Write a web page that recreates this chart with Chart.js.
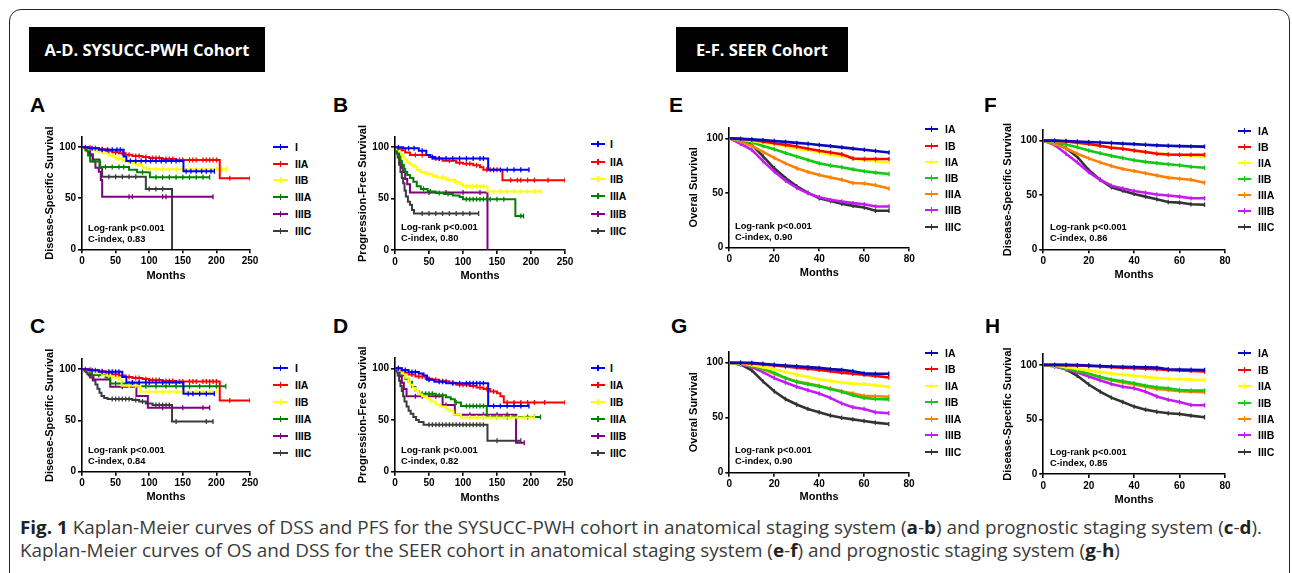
<!DOCTYPE html>
<html>
<head>
<meta charset="utf-8">
<title>Fig. 1 Kaplan-Meier curves</title>
<script src="https://cdn.jsdelivr.net/npm/chart.js@4.4.1/dist/chart.umd.min.js"></script>
<style>
 html,body{margin:0;padding:0;background:#fff;}
 body{width:1292px;height:573px;position:relative;overflow:hidden;font-family:'Liberation Sans',Arial,sans-serif;}
 #frame{position:absolute;left:9px;top:9px;width:1281px;height:640px;border:1.5px solid #262626;border-radius:12px;box-sizing:border-box;}
 .hdr{position:absolute;top:27px;height:45px;background:#000;color:#fff;font-family:'Open Sans',sans-serif;font-weight:700;font-size:16.5px;line-height:45px;text-align:center;white-space:nowrap;}
 .letter{position:absolute;font-weight:700;font-size:21px;line-height:21px;color:#000;}
 .note{position:absolute;font-weight:700;font-size:9.3px;line-height:11px;color:#000;white-space:nowrap;}
 .lg-line{position:absolute;height:2px;}
 .lg-tick{position:absolute;width:1.5px;height:6px;}
 .lg-text{position:absolute;font-weight:700;font-size:10.5px;line-height:12px;color:#000;white-space:nowrap;}
 canvas{position:absolute;}
 .cap{position:absolute;left:20px;font-family:'Open Sans',sans-serif;font-size:17.5px;line-height:22px;color:#3a3a3a;white-space:nowrap;transform-origin:0 50%;}
 .cap b{color:#222;}
</style>
</head>
<body>
<div id="frame"></div>
<div class="hdr" style="left:29px;width:236px;">A-D. SYSUCC-PWH Cohort</div>
<div class="hdr" style="left:676px;width:172px;">E-F. SEER Cohort</div>
<div id="cap1" class="cap" style="top:516px;"><b>Fig. 1</b> Kaplan-Meier curves of DSS and PFS for the SYSUCC-PWH cohort in anatomical staging system (<b>a</b>-<b>b</b>) and prognostic staging system (<b>c</b>-<b>d</b>).</div>
<div id="cap2" class="cap" style="top:539px;">Kaplan-Meier curves of OS and DSS for the SEER cohort in anatomical staging system (<b>e</b>-<b>f</b>) and prognostic staging system (<b>g</b>-<b>h</b>)</div>
<script>
// ---------------- DATA ----------------
const stagesAD = ['I','IIA','IIB','IIIA','IIIB','IIIC'];
const stagesEH = ['IA','IB','IIA','IIB','IIIA','IIIB','IIIC'];
const xTicksAD = [0,50,100,150,200,250];
const xTicksEH = [0,20,40,60,80];
const yTicks = [0,50,100];

// Panel A: DSS, anatomical (SYSUCC-PWH) — [month, survival %] steps, censor months
const A_I = [[0,100],[10,99],[25,97.5],[62,91],[66,86.5],[151,76.5]];
const A_I_cens = [15,30,38,45,52,57,72,80,88,95,102,110,118,125,133,140,155,162,170,178,185,192,197];
const A_IIA = [[0,100],[8,99.5],[15,99],[25,98],[35,96.5],[45,95],[55,94],[65,92.5],[75,91.5],[90,90.5],[100,89.5],[120,88.5],[140,87.5],[205,69.5]];
const A_IIA_cens = [5,12,20,30,40,50,60,70,80,85,95,105,110,115,125,130,135,145,150,160,165,170,180,185,190,195,200,220,250];
const A_IIB = [[0,100],[10,98],[20,96],[30,94],[40,92],[50,89],[60,87],[70,85],[80,83],[90,80],[96,78.5]];
const A_IIB_cens = [25,45,55,65,75,85,100,110,120,130,140,150,160,170,180,190,200,208,215];
const A_IIIA = [[0,100],[5,97],[9,92],[12,86],[27,80.5],[70,78],[82,75.5],[101,70.5]];
const A_IIIA_cens = [20,35,45,55,62,90,110,120,130,140,150,160,170,180,190];
const A_IIIB = [[0,100],[8,96],[12,92],[16,86],[20,80],[25,76],[28,68],[30,51.5]];
const A_IIIB_cens = [70,75,120,125,195];
const A_IIIC = [[0,100],[6,97],[10,93],[16,88],[26,80],[30,71],[95,59],[134,0]];
const A_IIIC_cens = [40,50,60,70,80,100,110,120];

// Panel B: PFS, anatomical
const B_I = [[0,100],[12,99],[35,96.5],[46,92.5],[52,90.5],[58,89],[137,78]];
const B_I_cens = [5,20,28,40,55,65,75,85,95,105,115,125,130,145,155,165,175,185,197];
const B_IIA = [[0,100],[5,98.5],[10,97],[15,95],[22,92.5],[50,90.5],[55,89],[70,87],[90,85],[100,84],[115,82.5],[125,80.5],[130,78],[158,68]];
const B_IIA_cens = [30,40,60,65,80,95,105,110,120,135,140,150,170,180,185,195,205,225,250];
const B_IIB = [[0,100],[3,98],[6,96],[9,93],[12,90],[15,88],[18,85],[22,83],[27,81],[32,78],[37,76],[45,74],[55,72],[62,70.5],[75,68.5],[88,66],[96,64],[100,62],[136,57]];
const B_IIB_cens = [50,60,70,80,90,105,110,115,120,125,130,145,155,165,175,185,195,205,214];
const B_IIIA = [[0,100],[3,95],[5,91],[8,87],[10,83],[13,79],[15,76],[18,73],[22,70],[27,66.5],[32,62],[38,59.5],[48,57],[60,55.5],[72,54.5],[85,53],[95,51.5],[100,49.5],[177,33]];
const B_IIIA_cens = [42,52,65,78,105,110,115,120,125,130,135,140,150,160,185,189];
const B_IIIB = [[0,100],[3,94],[7,85],[10,80],[12,76],[15,69],[18,64],[22,56],[136,0]];
const B_IIIB_cens = [50,75,100,125];
const B_IIIC = [[0,100],[2,95],[4,90],[6,83],[8,76],[10,70],[12,65],[14,58],[16,52],[19,47],[22,44],[25,39],[28,35.5]];
const B_IIIC_cens = [40,50,60,70,80,90,100,110,123];

// Panel C: DSS, prognostic
const C_I = [[0,100],[10,99],[25,97.5],[60,92.5],[66,87],[151,76]];
const C_I_cens = [15,30,40,45,50,55,75,85,95,100,110,120,130,140,158,165,175,185,197];
const C_IIA = [[0,100],[8,99.5],[15,99],[25,98],[35,96.5],[45,95],[55,94],[65,92.5],[75,91.5],[90,90.5],[100,89.5],[120,88.5],[140,88],[205,69.5]];
const C_IIA_cens = [5,12,20,30,40,50,60,70,80,85,95,105,110,115,125,130,135,145,150,160,165,170,180,185,190,195,200,220,250];
const C_IIB = [[0,100],[10,98],[20,96],[30,94],[45,92],[55,90],[59,84],[87,78]];
const C_IIB_cens = [40,50,70,80,100,110,120,130,140,150,160,170,180,190,200];
const C_IIIA = [[0,100],[5,98],[10,96],[15,94.5],[35,92],[42,86],[85,83.5]];
const C_IIIA_cens = [25,50,60,70,95,110,125,140,150,160,175,190,200,214];
const C_IIIB = [[0,100],[6,97],[10,94],[17,90],[42,83],[81,74],[98,62.5]];
const C_IIIB_cens = [60,120,150,180,190];
const C_IIIC = [[0,100],[4,98],[8,95],[12,92],[16,89],[20,85],[23,81],[26,77],[29,74],[33,72],[38,71],[75,70],[85,68.5],[95,66.5],[105,65],[134,49]];
const C_IIIC_cens = [45,50,55,60,65,70,80,90,110,115,120,125,130,140,185,195];

// Panel D: PFS, prognostic
const D_I = [[0,100],[10,98.5],[20,96.5],[35,95],[42,93],[47,89],[58,87],[75,85.5],[137,63.5]];
const D_I_cens = [5,15,25,30,50,65,70,85,95,105,110,115,120,125,130,145,155,165,175,185,197];
const D_IIA = [[0,100],[10,98],[15,96],[20,94],[30,92],[45,90],[55,89],[65,87.5],[80,86],[90,84],[110,83],[120,81.5],[130,80],[140,77.5],[150,76],[155,73],[160,67]];
const D_IIA_cens = [5,25,35,40,50,60,70,75,85,95,100,105,115,125,135,145,165,175,185,195,205,220,250];
const D_IIB = [[0,100],[5,98],[10,95],[15,91],[20,87],[22,84],[26,81],[30,78],[35,75],[40,73],[47,71],[52,68],[60,65],[66,63],[75,60.5],[80,59],[86,55],[97,52.5]];
const D_IIB_cens = [110,120,130,140,150,160,170,180,190,200,205];
const D_IIIA = [[0,100],[5,97],[10,93],[15,90],[20,87],[25,82],[30,78],[35,75.5],[60,74],[75,72],[82,70],[88,67],[97,63.5],[135,53]];
const D_IIIA_cens = [40,45,50,55,65,70,90,105,110,115,120,125,130,150,165,180,195,205,214];
const D_IIIB = [[0,100],[4,96],[7,92],[10,86],[13,80],[17,73],[70,64.5],[88,55],[178,28]];
const D_IIIB_cens = [30,40,60,75,110,130,150,165,190];
const D_IIIC = [[0,100],[2,97],[4,93],[6,88],[8,83],[10,78],[12,73],[14,68],[17,63],[20,59],[23,56],[27,53],[31,50],[35,48],[42,45.5],[136,30]];
const D_IIIC_cens = [50,55,60,65,70,75,80,85,90,95,100,105,110,115,120,125,130,150,185];

// SEER panels: survival % read at these months
const seerMonths = [0,5,10,15,20,25,30,35,40,45,50,55,60,65,71];
// Panel E: OS, anatomical
const E_IA   = [100,99.5,99,98.3,97.5,96.7,95.8,95,93.8,92.8,91.7,90.5,89.5,88.3,87];
const E_IB   = [100,99.5,98.5,97,95.5,94,92.5,90.5,88.5,87,85.3,81.5,81,81,81];
const E_IIA  = [100,99,97.5,96,94.5,92.5,90.5,89,87,85,83.5,81.5,80,79,77.7];
const E_IIB  = [100,98.5,96.3,93,89.9,86.5,83.2,80,77,75,73.4,71.5,69.7,68.5,67.3];
const E_IIIA = [100,97,93,87.5,82,77,72.5,69,66.4,64,62,59,58.5,57,54];
const E_IIIB = [100,95,89.5,79,69.5,61,54.5,49.5,46,43.5,42,40.5,39.5,37.5,37.5];
const E_IIIC = [100,98.5,94,83.5,72.5,63.5,56,50,45,42.5,40,38,36.5,33.5,33.5];
// Panel F: DSS, anatomical
const F_IA   = [100,100,99.7,99.3,98.8,98.3,97.8,97.3,96.8,96.2,95.7,95.3,95,94.7,94.5];
const F_IB   = [100,99.8,99.2,98.2,97,95.3,93.5,92.5,91,89.5,88,87.3,87,87,87];
const F_IIA  = [100,99.6,99,98,96.8,95.2,94,92.5,91,89.5,88.5,87.5,87,86,85.3];
const F_IIB  = [100,98.5,96.5,94,91,88.5,86,84,82,80.5,79.3,78.3,77.3,76,75];
const F_IIIA = [100,97,93,88,83.7,80,76.7,74,72,70,68,66,65,64,61.3];
const F_IIIB = [100,96,88,80,71,64,58.6,56,53.7,52,50.5,49.5,48.5,47,47];
const F_IIIC = [100,98,93,85,73,64,57,54,51,48.5,46,43.5,43,41.5,41];
// Panel G: OS, prognostic
const G_IA   = [100,100,99.8,99,98.2,97.5,96.8,96,95.3,94.2,93.5,92.3,90.3,90,90];
const G_IB   = [100,99.8,99.3,98.5,97.5,96.5,95.5,94.5,93.5,92.3,91,90,89,88,86.5];
const G_IIA  = [100,99.5,98,96,94,91.5,89,87,85,83.5,82,81,80.5,79.5,78];
const G_IIB  = [100,99,97,94.5,91,86,82.5,80.5,78.5,76,73.5,70.5,68,67,66.7];
const G_IIIA = [100,99,97,94,90,86,83,81,79,76.5,74,72,70,69.5,69];
const G_IIIB = [100,98.5,96,91.5,86,82,78.2,75,72,68,63,59.5,58,55,54];
const G_IIIC = [100,98.5,93,83,74,67,62,58,55,52,50,48.5,47,45.5,44.2];
// Panel H: DSS, prognostic
const H_IA   = [100,100,100,99.8,99.5,99,98.5,98.2,98,97.8,97.5,96,95.7,95.5,95.4];
const H_IB   = [100,100,99.8,99.4,99,98.5,98,97.5,97,96.5,96,95.3,95,94.5,94];
const H_IIA  = [100,99.5,98,96.5,95,93.5,92,91,90,89,88,87.3,87,86.5,86.2];
const H_IIB  = [100,99,97,94.5,92,89,86.5,85,83.2,81,79.5,78.5,77,76.5,76.5];
const H_IIIA = [100,99,97,94.5,92,89,86,84,82,80,78,77,76,75.5,75];
const H_IIIB = [100,98.5,96,93,89.3,86,82.6,80,78.6,75.5,71,68,66,63.3,63];
const H_IIIC = [100,99,96,90,82,75.5,70,66,61.8,59,57,55.7,55,53.5,52];

// ---------------- STYLE / LAYOUT ----------------
const colorsAD = ['#0000ff','#ff0000','#ffff00','#008000','#800080','#3c3c3c'];
const colorsEH = ['#0a0ab8','#ff0000','#ffff00','#14c814','#ff8000','#c21cf0','#333333'];
const FONT = "'Liberation Sans', Arial, sans-serif";

const panels = [
 {id:'A', L:82, R:250, T:137, B:249.3, titleX:50, monthsY:276, ytitle:'Disease-Specific Survival', xmax:250, xt:xTicksAD,
  letter:[30,94], lg:{x:273, y0:146.7, dy:16.8, lw:15, tx:22}, note:[88,222.5], cidx:'0.83', kind:'km',
  stages:stagesAD, colors:colorsAD, series:[[A_I,A_I_cens],[A_IIA,A_IIA_cens],[A_IIB,A_IIB_cens],[A_IIIA,A_IIIA_cens],[A_IIIB,A_IIIB_cens],[A_IIIC,A_IIIC_cens]]},
 {id:'B', L:395, R:565, T:137, B:250, titleX:363, monthsY:276, ytitle:'Progression-Free Survival', xmax:250, xt:xTicksAD,
  letter:[333,94], lg:{x:591, y0:144.3, dy:17.3, lw:14, tx:19}, note:[401,221.8], cidx:'0.80', kind:'km',
  stages:stagesAD, colors:colorsAD, series:[[B_I,B_I_cens],[B_IIA,B_IIA_cens],[B_IIB,B_IIB_cens],[B_IIIA,B_IIIA_cens],[B_IIIB,B_IIIB_cens],[B_IIIC,B_IIIC_cens]]},
 {id:'C', L:82, R:250, T:359, B:471.7, titleX:50, monthsY:497.3, ytitle:'Disease-Specific Survival', xmax:250, xt:xTicksAD,
  letter:[30,315], lg:{x:273, y0:368.3, dy:16.9, lw:15, tx:22}, note:[88,444.5], cidx:'0.84', kind:'km',
  stages:stagesAD, colors:colorsAD, series:[[C_I,C_I_cens],[C_IIA,C_IIA_cens],[C_IIB,C_IIB_cens],[C_IIIA,C_IIIA_cens],[C_IIIB,C_IIIB_cens],[C_IIIC,C_IIIC_cens]]},
 {id:'D', L:395, R:565, T:358, B:471.7, titleX:363, monthsY:498.3, ytitle:'Progression-Free Survival', xmax:250, xt:xTicksAD,
  letter:[333,315], lg:{x:591, y0:368.3, dy:16.9, lw:14, tx:19}, note:[401,444.5], cidx:'0.82', kind:'km',
  stages:stagesAD, colors:colorsAD, series:[[D_I,D_I_cens],[D_IIA,D_IIA_cens],[D_IIB,D_IIB_cens],[D_IIIA,D_IIIA_cens],[D_IIIB,D_IIIB_cens],[D_IIIC,D_IIIC_cens]]},
 {id:'E', L:729.3, R:909.3, T:127.4, B:247.3, titleX:694, monthsY:273.3, ytitle:'Overal Survival', xmax:80, xt:xTicksEH,
  letter:[669,94], lg:{x:925, y0:129.3, dy:16.2, lw:13, tx:20}, note:[735,220.5], cidx:'0.90', kind:'seer',
  stages:stagesEH, colors:colorsEH, series:[E_IA,E_IB,E_IIA,E_IIB,E_IIIA,E_IIIB,E_IIIC]},
 {id:'F', L:1043.3, R:1225, T:129.8, B:249.3, titleX:1008, monthsY:275, ytitle:'Disease-Specific Survival', xmax:80, xt:xTicksEH,
  letter:[984,94], lg:{x:1238, y0:130.7, dy:16, lw:13, tx:20}, note:[1050,221.8], cidx:'0.86', kind:'seer',
  stages:stagesEH, colors:colorsEH, series:[F_IA,F_IB,F_IIA,F_IIB,F_IIIA,F_IIIB,F_IIIC]},
 {id:'G', L:729.3, R:909, T:351.7, B:472.7, titleX:694, monthsY:497.7, ytitle:'Overal Survival', xmax:80, xt:xTicksEH,
  letter:[671,315], lg:{x:925, y0:352.7, dy:16.5, lw:13, tx:20}, note:[735,444.5], cidx:'0.90', kind:'seer',
  stages:stagesEH, colors:colorsEH, series:[G_IA,G_IB,G_IIA,G_IIB,G_IIIA,G_IIIB,G_IIIC]},
 {id:'H', L:1043.3, R:1225, T:354, B:474, titleX:1008, monthsY:500, ytitle:'Disease-Specific Survival', xmax:80, xt:xTicksEH,
  letter:[985,315], lg:{x:1238, y0:353.3, dy:16.4, lw:13, tx:20}, note:[1050,447.2], cidx:'0.85', kind:'seer',
  stages:stagesEH, colors:colorsEH, series:[H_IA,H_IB,H_IIA,H_IIB,H_IIIA,H_IIIB,H_IIIC]}
];

// Build Kaplan-Meier points (steps + censor marks placed on the step function)
function kmData(steps, cens) {
  const pts = steps.map(([t,s]) => ({x:t, y:s, c:false}));
  cens.forEach(t => {
    let s = steps[0][1];
    for (const [tt,ss] of steps) if (tt <= t) s = ss;
    pts.push({x:t, y:s, c:true});
  });
  pts.sort((a,b) => (a.x - b.x) || ((a.c?1:0) - (b.c?1:0)));
  return pts;
}
function seerData(vals) {
  return seerMonths.map((m,i) => ({x:m, y:vals[i], c:i>0}));
}

function el(cls, style, text) {
  const d = document.createElement('div');
  if (cls) d.className = cls;
  Object.assign(d.style, style);
  if (text != null) d.textContent = text;
  document.body.appendChild(d);
  return d;
}

function buildPanel(p) {
  const cvLeft = Math.round(p.titleX - 6.6);
  const yW = p.L - cvLeft;
  const cvTop = Math.floor(p.T) - 12;
  const padTop = p.T - cvTop;
  const cvRight = Math.ceil(p.R) + 20;
  const padRight = cvRight - p.R;
  const cvBottom = Math.round(p.monthsY + 6.6);
  const xH = cvBottom - p.B;
  const cv = document.createElement('canvas');
  cv.width = cvRight - cvLeft; cv.height = cvBottom - cvTop;
  cv.style.left = cvLeft + 'px'; cv.style.top = cvTop + 'px';
  document.body.appendChild(cv);

  const isKM = p.kind === 'km';
  const datasets = p.series.map((s, i) => {
    const col = p.colors[i];
    return {
      label: p.stages[i],
      data: isKM ? kmData(s[0], s[1]) : seerData(s),
      borderColor: col, backgroundColor: col,
      borderWidth: isKM ? 2 : 2.6,
      stepped: isKM ? 'before' : false,
      tension: 0,
      fill: false,
      pointStyle: 'line',
      pointRotation: 90,
      pointRadius: c => (c.raw && c.raw.c) ? (isKM ? 2.5 : 2.2) : 0,
      pointHoverRadius: 0,
      pointBorderWidth: 1.3,
      pointBorderColor: col
    };
  });

  const tickFont = {family: FONT, size: 10, weight: 'bold'};
  const titleFont = {family: FONT, size: 11, weight: 'bold'};
  const gridOpt = {display: true, drawOnChartArea: false, drawTicks: true, tickLength: 4, color: '#000', lineWidth: 1.6};
  const borderOpt = {display: true, color: '#000', width: 1.6};

  new Chart(cv, {
    type: 'line',
    data: {datasets},
    options: {
      responsive: false, animation: false, devicePixelRatio: 1,
      layout: {padding: {top: padTop, right: padRight, left: 0, bottom: 0}},
      plugins: {legend: {display: false}, tooltip: {enabled: false}},
      events: [],
      scales: {
        x: {
          type: 'linear', min: 0, max: p.xmax,
          afterBuildTicks: s => { s.ticks = p.xt.map(v => ({value: v})); },
          afterFit: s => { s.height = xH; },
          border: borderOpt, grid: gridOpt,
          ticks: {font: tickFont, color: '#000', padding: 2, maxRotation: 0, autoSkip: false},
          title: {display: true, text: 'Months', font: titleFont, color: '#000', padding: 0}
        },
        y: {
          type: 'linear', min: 0, max: 110,
          afterBuildTicks: s => { s.ticks = yTicks.map(v => ({value: v})); },
          afterFit: s => { s.width = yW; },
          border: borderOpt, grid: gridOpt,
          ticks: {font: tickFont, color: '#000', padding: 2, autoSkip: false},
          title: {display: true, text: p.ytitle, font: titleFont, color: '#000', padding: 0}
        }
      }
    }
  });

  // panel letter
  el('letter', {left: p.letter[0] + 'px', top: p.letter[1] + 'px'}, p.id);
  // annotation
  const n = el('note', {left: p.note[0] + 'px', top: p.note[1] + 'px'});
  n.innerHTML = 'Log-rank p&lt;0.001<br>C-index, ' + p.cidx;
  // legend
  p.stages.forEach((st, i) => {
    const yc = p.lg.y0 + i * p.lg.dy;
    const col = p.colors[i];
    el('lg-line', {left: p.lg.x + 'px', top: (yc - 1) + 'px', width: p.lg.lw + 'px', background: col});
    el('lg-tick', {left: (p.lg.x + p.lg.lw / 2 - 0.75) + 'px', top: (yc - 3) + 'px', background: col});
    el('lg-text', {left: (p.lg.x + p.lg.tx) + 'px', top: (yc - 6) + 'px'}, st);
  });
}

panels.forEach(buildPanel);

// fit caption line widths to the reference
(function(){
  const c1 = document.getElementById('cap1');
  const c2 = document.getElementById('cap2');
  const w1 = c1.getBoundingClientRect().width;
  const k = 1242 / w1;
  c1.style.transform = 'scaleX(' + k + ')';
  c2.style.transform = 'scaleX(' + k + ')';
})();
</script>
</body>
</html>
